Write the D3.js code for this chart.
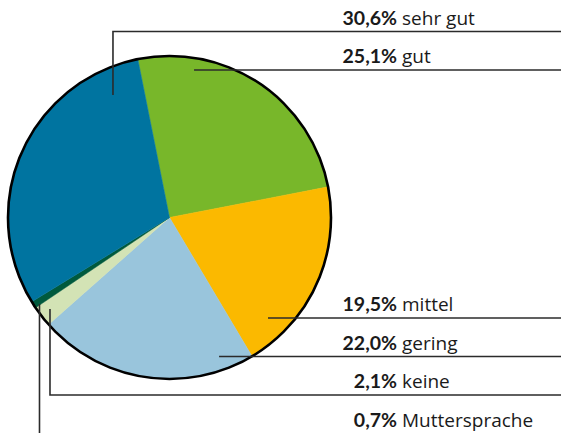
<!DOCTYPE html>
<html><head><meta charset="utf-8">
<script src="https://cdn.jsdelivr.net/npm/d3@7"></script>
<style>
html,body{margin:0;padding:0;background:#fff;}
svg{display:block;}
text{font-family:"Open Sans","Noto Sans",sans-serif;font-size:19px;fill:#1a1a1a;}
text.val{font-family:Lato,"Open Sans",sans-serif;font-weight:700;font-size:19.5px;}
</style></head>
<body>
<svg id="chart" width="561" height="433"></svg>
<script>
// Data (clockwise order starting at the "gut" slice)
const categories = ["gut", "mittel", "gering", "keine", "Muttersprache", "sehr gut"];
const values = [25.1, 19.5, 22.0, 2.1, 0.7, 30.6];
const valueLabels = ["25,1%", "19,5%", "22,0%", "2,1%", "0,7%", "30,6%"];
const colors = ["#78b72a", "#fbb900", "#99c5dc", "#d3e3b5", "#005a3d", "#0074a0"];

// Label order from top to bottom
const labelOrder = ["sehr gut", "gut", "mittel", "gering", "keine", "Muttersprache"];

const svg = d3.select("#chart");
const W = 561, H = 433;
const cx = 169.5, cy = 217.5, R = 161.5;
const startAngle = -11.3 * Math.PI / 180;

const pie = d3.pie().sort(null).value(d => d.value)
  .startAngle(startAngle).endAngle(startAngle + 2 * Math.PI);
const data = categories.map((c, i) => ({cat: c, value: values[i], label: valueLabels[i], color: colors[i]}));
const arcs = pie(data);
const arc = d3.arc().innerRadius(0).outerRadius(R);

const g = svg.append("g").attr("transform", `translate(${cx},${cy})`);
g.selectAll("path.slice").data(arcs).join("path")
  .attr("class", "slice")
  .attr("d", arc)
  .attr("fill", d => d.data.color)
  .attr("stroke", d => d.data.color)
  .attr("stroke-width", 0.5);
g.append("circle").attr("r", R).attr("fill", "none")
  .attr("stroke", "#000").attr("stroke-width", 2.6);

// Layout of label rows (line y positions) and leader anchors (fractions of R from centre)
const rowLineY = {"sehr gut": 31.5, "gut": 70, "mittel": 318, "gering": 356.5, "keine": 395, "Muttersprache": 433.5};
const anchors = {
  "sehr gut": {type: "v", fx: -0.35, fy: -0.758},
  "gut": {type: "h", fx: 0.152},
  "mittel": {type: "h", fx: 0.61},
  "gering": {type: "h", fx: 0.307},
  "keine": {type: "v", fx: -0.74, fy: 0.567},
  "Muttersprache": {type: "v", fx: -0.805, fy: 0.536}
};
const lineG = svg.append("g").attr("stroke", "#2b2b2b").attr("stroke-width", 1.6).attr("fill", "none");
labelOrder.forEach(name => {
  const a = anchors[name];
  const px = cx + a.fx * R;
  const y = rowLineY[name];
  if (a.type === "h") {
    lineG.append("path").attr("d", `M${px},${y}H${W}`);
  } else {
    const py = cy + a.fy * R;
    if (y >= H) lineG.append("path").attr("d", `M${px},${py}V${H}`);
    else lineG.append("path").attr("d", `M${px},${py}V${y}H${W}`);
  }
});

// Labels
const lab = svg.append("g");
labelOrder.forEach(name => {
  const d = data.find(e => e.cat === name);
  const y = rowLineY[name] - 6.8;
  lab.append("text").attr("class", "val").attr("x", 397).attr("y", y).attr("text-anchor", "end")
    .text(d.label);
  lab.append("text").attr("x", 402).attr("y", y).text(d.cat);
});
</script>
</body></html>
